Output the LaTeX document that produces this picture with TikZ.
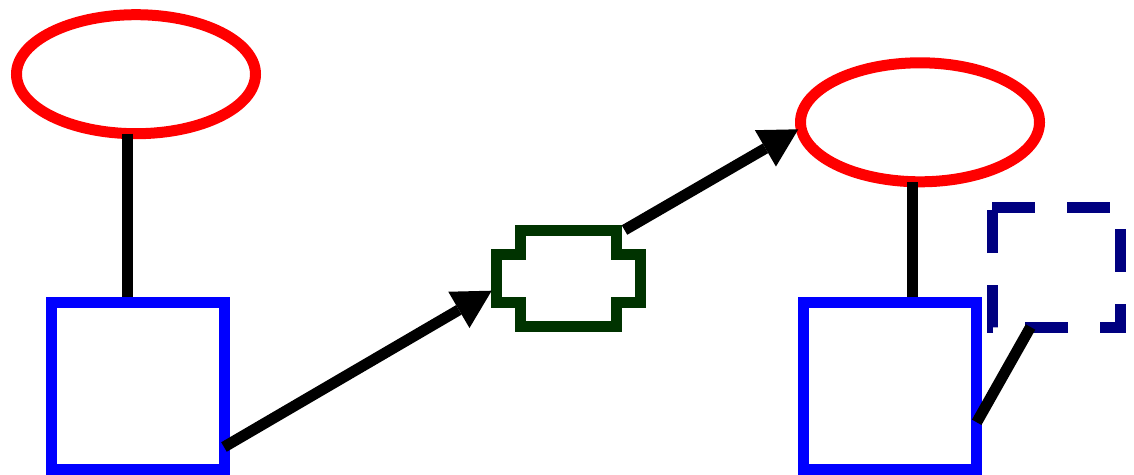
\documentclass[tikz,border=0pt]{standalone}
\usetikzlibrary{arrows.meta,calc,shapes.geometric}
\definecolor{ellred}{RGB}{255,0,0}
\definecolor{sqblue}{RGB}{0,0,255}
\definecolor{dkgreen}{RGB}{0,51,0}
\definecolor{navyblue}{RGB}{0,0,128}
\tikzset{
  ell/.style={ellipse,draw=ellred,line width=11pt,minimum width=239pt,minimum height=119pt,inner sep=0pt,outer sep=0pt},
  sq/.style={rectangle,draw=sqblue,line width=11pt,minimum width=173pt,minimum height=167pt,inner sep=0pt,outer sep=0pt},
  holder/.style={rectangle,draw=none,inner sep=0pt,outer sep=0pt},
  gpath/.style={draw=dkgreen,line width=11pt,line join=miter},
  dashpath/.style={draw=navyblue,line width=11pt,dash pattern=on 43pt off 32pt},
  conn/.style={draw=black,line width=11pt},
  arr/.style={conn,-{Triangle[length=38pt,width=42pt,line width=0pt]}}
}
\begin{document}
\begin{tikzpicture}[x=1pt,y=-1pt]
\useasboundingbox (0,0) rectangle (1134,474);
% nodes
\node[ell] (e1) at (136,74.2) {};
\node[ell] (e2) at (920,122.3) {};
\node[sq] (s1) at (138,386.3) {};
\node[sq] (s2) at (890.1,386.3) {};
\node[holder,minimum width=144pt,minimum height=96pt] (g) at (568,278.25) {};
\node[holder,minimum width=128pt,minimum height=120pt] (d) at (1056,267) {};
% green shape
\draw[gpath] ($(g.north west)+(24,0)$) -- ++(96,0) -- ++(0,24) -- ++(24,0) -- ++(0,48)
  -- ++(-24,0) -- ++(0,24) -- ++(-96,0) -- ++(0,-24) -- ++(-24,0) -- ++(0,-48) -- ++(24,0) -- cycle;
% dashed box
\draw[dashpath] (d.north west) -- (d.north east) -- (d.south east) -- (d.south west) -- (d.north west);
% connectors
\draw[conn] ($(e1.center)+(-8.2,59.5)$) -- ($(s1.center)+(-10.2,-89)$);
\draw[conn] ($(e2.center)+(-8,59.5)$) -- ($(s2.center)+(21.9,-89)$);
\draw[arr] ($(s1.center)+(86,60.7)$) -- ($(g.center)+(-76.3,12.45)$);
\draw[arr] ($(g.center)+(56.5,-48.25)$) -- ($(e2.center)+(-121.7,7)$);
\draw[conn] ($(s2.center)+(86.6,36)$) -- ($(d.center)+(-25.5,60)$);
\end{tikzpicture}
\end{document}
